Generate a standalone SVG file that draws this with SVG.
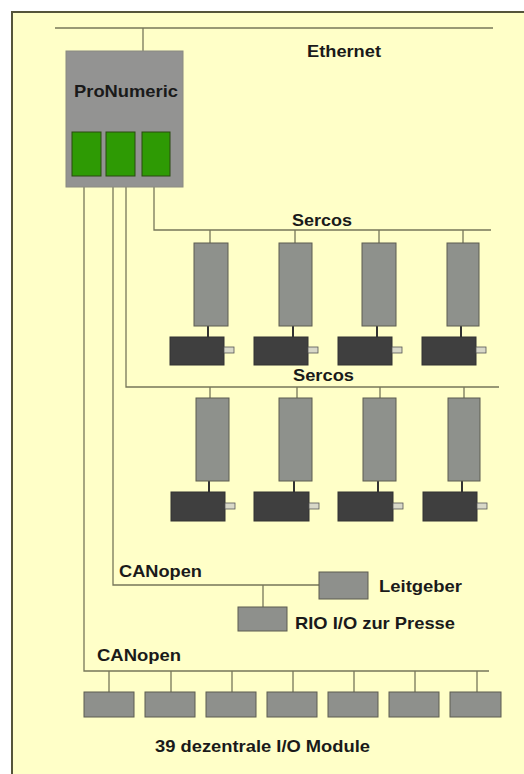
<svg xmlns="http://www.w3.org/2000/svg" width="524" height="774" viewBox="0 0 524 774">
<style>
.bg{fill:#ffffc8}
.frame{fill:none;stroke:#55553a;stroke-width:2}
.bus{fill:none;stroke:#77775a;stroke-width:1.3}
.link{fill:none;stroke:#333;stroke-width:2}
.box{fill:#939392;stroke:#8a8a80;stroke-width:1}
.port{fill:#2e9a04;stroke:#2a4a10;stroke-width:1}
.drive{fill:#8e918c;stroke:#5c5c50;stroke-width:1}
.motor{fill:#3f3f3f;stroke:#333;stroke-width:1}
.shaft{fill:#d8d8c8;stroke:#555;stroke-width:0.8}
.io{fill:#8e908c;stroke:#5c5c50;stroke-width:1}
text{font-family:"Liberation Sans",Arial,sans-serif;font-weight:bold;font-size:17px;fill:#1a1a1a}
</style>
<rect x="0" y="0" width="524" height="774" fill="#ffffff"/>
<rect class="bg" x="12" y="12" width="512" height="762"/>
<path class="frame" d="M12,774 V12 H524"/>

<g id="connectors">
<path class="bus" d="M55,28 H493"/>
<path class="bus" d="M143,28 V58"/>
<path class="bus" d="M154,176 V230 H491"/>
<path class="bus" d="M126,176 V387 H499"/>
<path class="bus" d="M113,176 V585 H319"/>
<path class="bus" d="M84,176 V671 H489"/>
<path class="bus" d="M210,230 V243 M295,230 V243 M379,230 V243 M463,230 V243"/>
<path class="bus" d="M210,387 V398 M297,387 V398 M380,387 V398 M464,387 V398"/>
<path class="link" d="M208,326 V337 M293,326 V337 M377,326 V337 M461,326 V337"/>
<path class="link" d="M209,481 V492 M294,481 V492 M378,481 V492 M462,481 V492"/>
<path class="bus" d="M263,585 V607"/>
<path class="bus" d="M109,671 V692 M171,671 V692 M232,671 V692 M293,671 V692 M354,671 V692 M415,671 V692 M477,671 V692"/>
</g>

<g id="ethernet-label"><text x="307" y="57" textLength="74" lengthAdjust="spacingAndGlyphs">Ethernet</text></g>

<g id="pronumeric">
<rect class="box" x="66" y="51" width="117" height="136"/>
<text x="74" y="97" textLength="104" lengthAdjust="spacingAndGlyphs">ProNumeric</text>
<rect class="port" x="72" y="132" width="29" height="44"/>
<rect class="port" x="106" y="132" width="29" height="44"/>
<rect class="port" x="142" y="132" width="28" height="44"/>
</g>

<g id="sercos1-label"><text x="292" y="226" textLength="60" lengthAdjust="spacingAndGlyphs">Sercos</text></g>

<g id="drive1-1"><rect class="drive" x="194" y="243" width="34" height="83"/></g>
<g id="drive1-2"><rect class="drive" x="279" y="243" width="33" height="83"/></g>
<g id="drive1-3"><rect class="drive" x="362" y="243" width="34" height="83"/></g>
<g id="drive1-4"><rect class="drive" x="447" y="243" width="32" height="83"/></g>

<g id="motor1-1"><rect class="motor" x="170" y="337" width="54" height="28"/><rect class="shaft" x="224" y="347" width="10" height="6"/></g>
<g id="motor1-2"><rect class="motor" x="254" y="337" width="54" height="28"/><rect class="shaft" x="308" y="347" width="10" height="6"/></g>
<g id="motor1-3"><rect class="motor" x="338" y="337" width="54" height="28"/><rect class="shaft" x="392" y="347" width="10" height="6"/></g>
<g id="motor1-4"><rect class="motor" x="422" y="337" width="54" height="28"/><rect class="shaft" x="476" y="347" width="10" height="6"/></g>

<g id="sercos2-label"><text x="293" y="381" textLength="61" lengthAdjust="spacingAndGlyphs">Sercos</text></g>

<g id="drive2-1"><rect class="drive" x="196" y="398" width="33" height="83"/></g>
<g id="drive2-2"><rect class="drive" x="279" y="398" width="33" height="83"/></g>
<g id="drive2-3"><rect class="drive" x="363" y="398" width="33" height="83"/></g>
<g id="drive2-4"><rect class="drive" x="448" y="398" width="32" height="83"/></g>

<g id="motor2-1"><rect class="motor" x="171" y="492" width="54" height="29"/><rect class="shaft" x="225" y="503" width="10" height="6"/></g>
<g id="motor2-2"><rect class="motor" x="254" y="492" width="55" height="29"/><rect class="shaft" x="309" y="503" width="10" height="6"/></g>
<g id="motor2-3"><rect class="motor" x="338" y="492" width="55" height="29"/><rect class="shaft" x="393" y="503" width="10" height="6"/></g>
<g id="motor2-4"><rect class="motor" x="423" y="492" width="54" height="29"/><rect class="shaft" x="477" y="503" width="10" height="6"/></g>

<g id="canopen1-label"><text x="119" y="577" textLength="83" lengthAdjust="spacingAndGlyphs">CANopen</text></g>

<g id="leitgeber">
<rect class="io" x="319" y="572" width="49" height="27"/>
<text x="379" y="592" textLength="83" lengthAdjust="spacingAndGlyphs">Leitgeber</text>
</g>

<g id="rio">
<rect class="io" x="238" y="607" width="49" height="24"/>
<text x="295" y="629" textLength="160" lengthAdjust="spacingAndGlyphs">RIO I/O zur Presse</text>
</g>

<g id="canopen2-label"><text x="97" y="661" textLength="84" lengthAdjust="spacingAndGlyphs">CANopen</text></g>

<g id="io1"><rect class="io" x="84" y="692" width="50" height="25"/></g>
<g id="io2"><rect class="io" x="145" y="692" width="50" height="25"/></g>
<g id="io3"><rect class="io" x="206" y="692" width="50" height="25"/></g>
<g id="io4"><rect class="io" x="267" y="692" width="50" height="25"/></g>
<g id="io5"><rect class="io" x="328" y="692" width="50" height="25"/></g>
<g id="io6"><rect class="io" x="389" y="692" width="50" height="25"/></g>
<g id="io7"><rect class="io" x="450" y="692" width="51" height="25"/></g>

<g id="io-label"><text x="155" y="752" textLength="215" lengthAdjust="spacingAndGlyphs">39 dezentrale I/O Module</text></g>
</svg>
